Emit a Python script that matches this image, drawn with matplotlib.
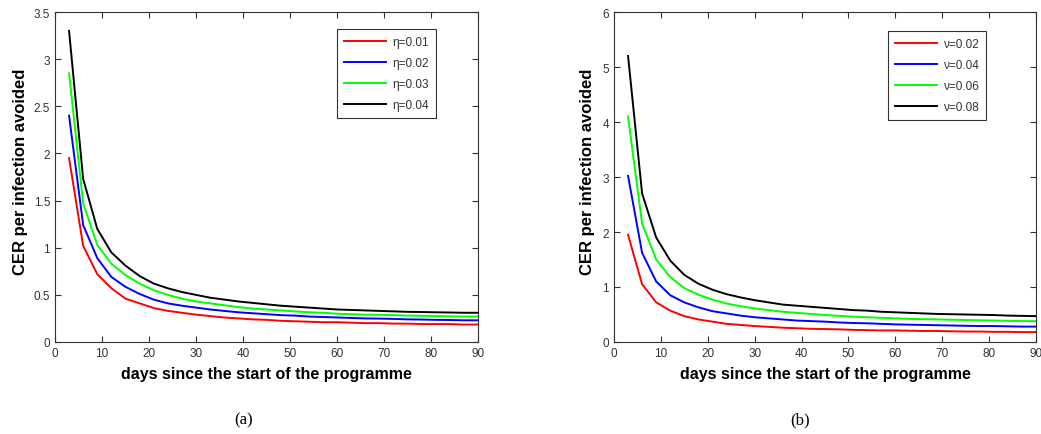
import matplotlib
matplotlib.use("Agg")
import matplotlib.pyplot as plt

# days sampled every 3 days from 3 to 90
days = list(range(3, 91, 3))

# panel (a): varying eta
eta_labels = ["η=0.01", "η=0.02", "η=0.03", "η=0.04"]
eta_001 = [1.95, 1.02, 0.72, 0.57, 0.46, 0.41, 0.36, 0.33, 0.31, 0.29, 0.275, 0.26, 0.25, 0.24, 0.235,
           0.225, 0.22, 0.215, 0.21, 0.21, 0.205, 0.2, 0.2, 0.195, 0.195, 0.19, 0.19, 0.19, 0.185, 0.185]
eta_002 = [2.40, 1.24, 0.89, 0.69, 0.585, 0.51, 0.45, 0.41, 0.385, 0.365, 0.345, 0.33, 0.315, 0.305, 0.295,
           0.285, 0.28, 0.27, 0.265, 0.26, 0.255, 0.25, 0.248, 0.245, 0.24, 0.238, 0.235, 0.233, 0.23, 0.23]
eta_003 = [2.85, 1.47, 1.03, 0.83, 0.71, 0.62, 0.55, 0.5, 0.46, 0.43, 0.41, 0.39, 0.37, 0.355, 0.345,
           0.335, 0.325, 0.315, 0.31, 0.30, 0.295, 0.29, 0.288, 0.285, 0.28, 0.278, 0.275, 0.272, 0.27, 0.27]
eta_004 = [3.30, 1.73, 1.20, 0.95, 0.81, 0.70, 0.62, 0.57, 0.53, 0.50, 0.47, 0.45, 0.43, 0.415, 0.40,
           0.385, 0.375, 0.365, 0.355, 0.345, 0.34, 0.335, 0.33, 0.325, 0.32, 0.318, 0.315, 0.313, 0.31, 0.31]

# panel (b): varying nu
nu_labels = ["ν=0.02", "ν=0.04", "ν=0.06", "ν=0.08"]
nu_002 = [1.95, 1.05, 0.72, 0.57, 0.47, 0.41, 0.37, 0.33, 0.31, 0.29, 0.275, 0.26, 0.25, 0.24, 0.235,
          0.23, 0.22, 0.215, 0.21, 0.21, 0.205, 0.2, 0.2, 0.195, 0.19, 0.19, 0.185, 0.185, 0.18, 0.18]
nu_004 = [3.02, 1.62, 1.10, 0.85, 0.72, 0.63, 0.56, 0.52, 0.48, 0.45, 0.43, 0.41, 0.39, 0.38, 0.37,
          0.355, 0.345, 0.34, 0.33, 0.32, 0.315, 0.31, 0.305, 0.30, 0.295, 0.29, 0.29, 0.285, 0.28, 0.28]
nu_006 = [4.10, 2.15, 1.50, 1.18, 0.98, 0.86, 0.77, 0.70, 0.65, 0.61, 0.58, 0.55, 0.53, 0.51, 0.49,
          0.475, 0.46, 0.45, 0.44, 0.43, 0.42, 0.415, 0.41, 0.405, 0.4, 0.395, 0.39, 0.385, 0.38, 0.38]
nu_008 = [5.20, 2.70, 1.90, 1.48, 1.22, 1.06, 0.95, 0.87, 0.81, 0.76, 0.72, 0.68, 0.66, 0.64, 0.62,
          0.60, 0.58, 0.57, 0.55, 0.54, 0.53, 0.52, 0.51, 0.505, 0.5, 0.495, 0.49, 0.48, 0.475, 0.47]

colors = ["#ff0000", "#0000ff", "#00ff00", "#000000"]

plt.rcParams["font.family"] = ["Liberation Sans", "DejaVu Sans"]

fig = plt.figure(figsize=(10.41, 4.35), dpi=100)
ax_a = fig.add_axes([0.0528, 0.2115, 0.4063, 0.7586])
ax_b = fig.add_axes([0.5898, 0.2115, 0.4054, 0.7586])


def draw_panel(ax, series, labels, ymax, yticks, yticklabels, legend_anchor):
    for vals, lab, col in zip(series, labels, colors):
        ax.plot(days, vals, color=col, lw=1.4, label=lab)
    ax.set_xlim(0, 90)
    ax.set_ylim(0, ymax)
    ax.set_xticks(range(0, 91, 10))
    ax.set_yticks(yticks)
    ax.set_yticklabels(yticklabels)
    ax.tick_params(direction="in", top=True, right=True, labelsize=8.5,
                   colors="#333333", length=4, width=0.8)
    for sp in ax.spines.values():
        sp.set_color("#333333")
        sp.set_linewidth(0.8)
    ax.set_xlabel("days since the start of the programme", fontsize=11.5,
                  fontweight="bold", labelpad=5)
    ax.set_ylabel("CER per infection avoided", fontsize=12,
                  fontweight="bold", labelpad=3)
    leg = ax.legend(loc="upper right", bbox_to_anchor=legend_anchor, fontsize=8.5,
                    fancybox=False, framealpha=1, edgecolor="#333333",
                    handlelength=3.6, handletextpad=0.5, labelspacing=0.75,
                    borderpad=0.6, borderaxespad=0)
    leg.get_frame().set_linewidth(0.8)
    for t in leg.get_texts():
        t.set_color("#333333")


draw_panel(ax_a, [eta_001, eta_002, eta_003, eta_004], eta_labels, 3.5,
           [0, 0.5, 1, 1.5, 2, 2.5, 3, 3.5],
           ["0", "0.5", "1", "1.5", "2", "2.5", "3", "3.5"], (0.901, 0.948))
draw_panel(ax_b, [nu_002, nu_004, nu_006, nu_008], nu_labels, 6,
           [0, 1, 2, 3, 4, 5, 6], ["0", "1", "2", "3", "4", "5", "6"], (0.8815, 0.942))
ax_a.yaxis.set_label_coords(-0.064, 0.52)
ax_b.yaxis.set_label_coords(-0.044, 0.52)

fig.text(244 / 1041, 1 - 420 / 435, "(a)", family="Liberation Serif", fontsize=12,
         ha="center", va="center")
fig.text(800 / 1041, 1 - 420 / 435, "(b)", family="Liberation Serif", fontsize=12,
         ha="center", va="center")

fig.savefig("out.png", dpi=100)
